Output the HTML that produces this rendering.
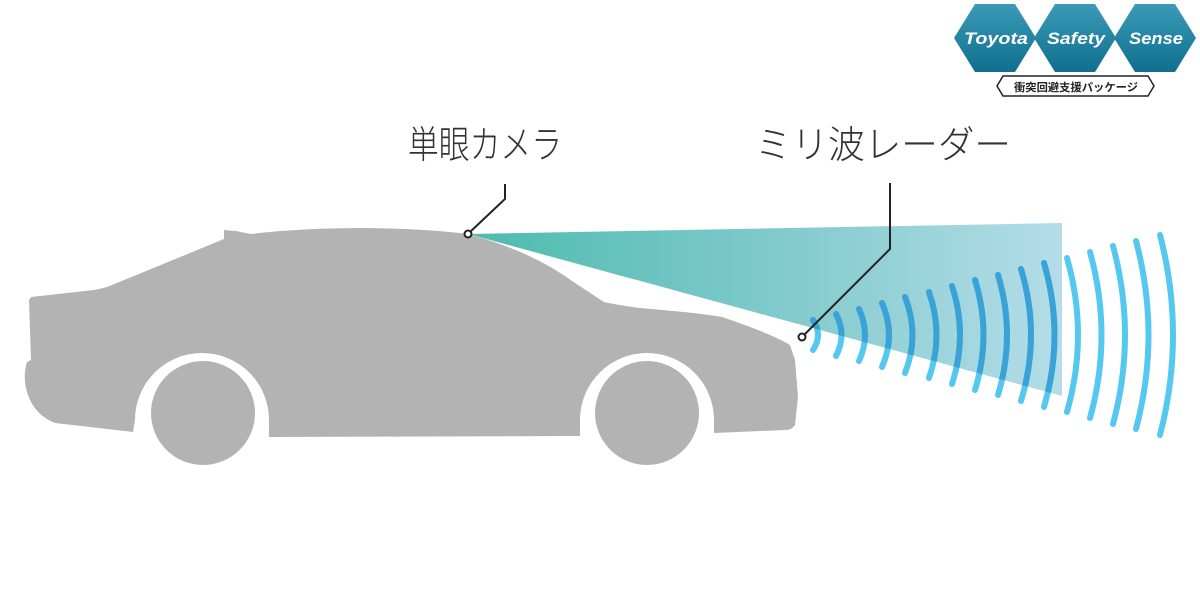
<!DOCTYPE html>
<html><head><meta charset="utf-8"><style>
html,body{margin:0;padding:0;background:#fff;width:1200px;height:604px;overflow:hidden}
svg{display:block}
</style></head><body>
<svg width="1200" height="604" viewBox="0 0 1200 604" xmlns="http://www.w3.org/2000/svg">
<defs>
<linearGradient id="beam" x1="468" y1="0" x2="1062" y2="0" gradientUnits="userSpaceOnUse">
<stop offset="0" stop-color="#4ebbae"/>
<stop offset="0.5" stop-color="#7ec9cb"/>
<stop offset="1" stop-color="#b4dde8"/>
</linearGradient>
<linearGradient id="hex" x1="0" y1="0" x2="0" y2="1">
<stop offset="0" stop-color="#3a9ab8"/>
<stop offset="1" stop-color="#0f6f8e"/>
</linearGradient>
<clipPath id="bc"><polygon points="468,234 1062,223 1062,396"/></clipPath>
<g id="arcs" fill="none" stroke-width="6" stroke-linecap="round">
<path d="M813,320 Q823,335 813,350"/>
<path d="M836,314 Q847,335 836,356"/>
<path d="M859,309 Q871,335 859,361"/>
<path d="M882,303 Q896,335 882,367"/>
<path d="M905,297 Q920,335 905,373"/>
<path d="M929,292 Q944,335 929,378"/>
<path d="M952,286 Q968,335 952,384"/>
<path d="M975,280 Q992,335 975,390"/>
<path d="M998,275 Q1016,335 998,395"/>
<path d="M1021,269 Q1041,335 1021,401"/>
<path d="M1044,263 Q1065,335 1044,407"/>
<path d="M1067,258 Q1089,335 1067,412"/>
<path d="M1090,252 Q1113,335 1090,418"/>
<path d="M1113,246 Q1137,335 1113,424"/>
<path d="M1136,241 Q1161,335 1136,429"/>
<path d="M1160,235 Q1186,335 1160,435"/>
</g>
</defs>
<!-- car -->
<path fill="#b3b3b3" d="M31,297 L94,290 Q105,288 112,285 L224,239 L224,230 L236,231 L251,234 Q300,228 366,228 Q430,229 467,234 Q530,250 575,283 L604,302 Q617,305 640,308 Q700,313 722,317 Q770,333 790,345 L795,360 L798,397 L795,425 Q792,430 785,430 L714,433 L714,420 A67 67 0 0 0 580,420 L580,436 L269,437 L269,420 A67 67 0 0 0 135,420 L133,432 L55,423 Q35,415 28,395 Q22,378 27,362 L31,360 L29,300 Z"/>
<circle cx="203" cy="413" r="52" fill="#b3b3b3"/>
<circle cx="647" cy="413" r="52" fill="#b3b3b3"/>
<!-- beam -->
<polygon points="468,234 1062,223 1062,396" fill="url(#beam)"/>
<!-- radar arcs -->
<use href="#arcs" stroke="#55c8f0"/>
<g clip-path="url(#bc)"><use href="#arcs" stroke="#3aa2d6"/></g>
<!-- leaders -->
<g fill="none" stroke="#222" stroke-width="2">
<polyline points="470,232 505,199 505,184"/>
<polyline points="804,335 890,249 890,183"/>
</g>
<circle cx="468" cy="234" r="3.5" fill="#fff" stroke="#222" stroke-width="2"/>
<circle cx="802" cy="337" r="3.5" fill="#fff" stroke="#222" stroke-width="2"/>
<!-- labels -->
<g font-family="'Liberation Sans','Noto Sans CJK JP',sans-serif" font-size="38" fill="#333" font-weight="300">
<text x="408" y="158" textLength="154" lengthAdjust="spacingAndGlyphs">単眼カメラ</text>
<text x="755" y="158" textLength="256" lengthAdjust="spacingAndGlyphs">ミリ波レーダー</text>
</g>
<!-- logo -->
<g>
<polygon points="975,4 1015,4 1036,38 1015,72 975,72 954,38" fill="url(#hex)"/>
<polygon points="1055,4 1095,4 1116,38 1095,72 1055,72 1034,38" fill="url(#hex)"/>
<polygon points="1135,4 1175,4 1196,38 1175,72 1135,72 1114,38" fill="url(#hex)"/>
<g font-family="'Liberation Sans',sans-serif" font-weight="bold" font-style="italic" font-size="17" fill="#fff" text-anchor="middle">
<text x="996" y="44" textLength="64" lengthAdjust="spacingAndGlyphs">Toyota</text>
<text x="1076" y="44" textLength="58" lengthAdjust="spacingAndGlyphs">Safety</text>
<text x="1156" y="44" textLength="54" lengthAdjust="spacingAndGlyphs">Sense</text>
</g>
<polygon points="1003,76 1148,76 1154,86 1148,96 1003,96 997,86" fill="#fff" stroke="#222" stroke-width="1.5"/>
<text x="1076" y="91" text-anchor="middle" font-family="'Liberation Sans','Noto Sans CJK JP',sans-serif" font-weight="bold" font-size="11" fill="#222" textLength="124" lengthAdjust="spacingAndGlyphs">衝突回避支援パッケージ</text>
</g>
</svg>
</body></html>
